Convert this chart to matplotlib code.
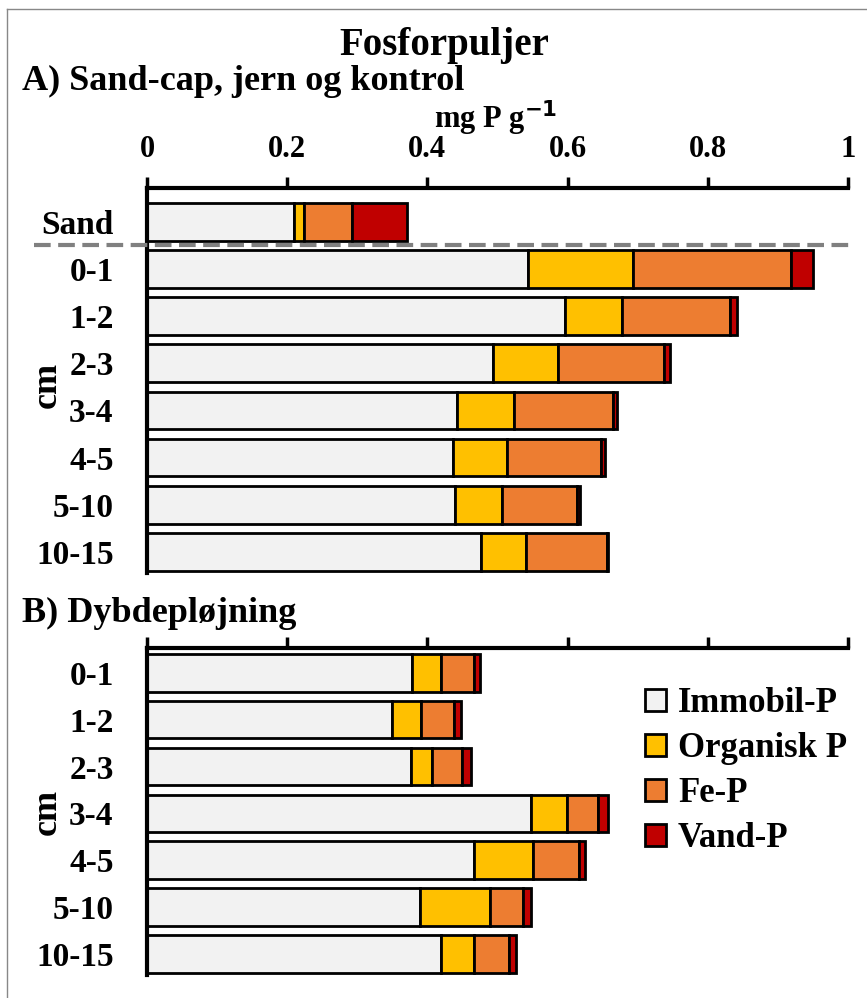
import numpy as np
import matplotlib
matplotlib.use("Agg")
import matplotlib.pyplot as plt
from matplotlib.lines import Line2D

plt.rcParams['font.family'] = ['Liberation Serif', 'DejaVu Serif']
plt.rcParams['font.weight'] = 'bold'

# data (mg P g-1)
labels_a = ['Sand', '0-1', '1-2', '2-3', '3-4', '4-5', '5-10', '10-15']
immobil_a = [0.209, 0.543, 0.597, 0.493, 0.442, 0.437, 0.439, 0.476]
organisk_a = [0.015, 0.150, 0.081, 0.093, 0.082, 0.077, 0.068, 0.065]
fe_a = [0.069, 0.225, 0.153, 0.151, 0.141, 0.134, 0.107, 0.115]
vand_a = [0.078, 0.032, 0.011, 0.009, 0.006, 0.006, 0.004, 0.002]

labels_b = ['0-1', '1-2', '2-3', '3-4', '4-5', '5-10', '10-15']
immobil_b = [0.378, 0.349, 0.376, 0.548, 0.466, 0.390, 0.420]
organisk_b = [0.042, 0.042, 0.031, 0.051, 0.084, 0.100, 0.047]
fe_b = [0.047, 0.047, 0.043, 0.045, 0.066, 0.047, 0.049]
vand_b = [0.008, 0.010, 0.012, 0.014, 0.009, 0.011, 0.010]

series_names = ['Immobil-P', 'Organisk P', 'Fe-P', 'Vand-P']
colors = ['#F2F2F2', '#FFC000', '#ED7D31', '#C00000']

W, H = 867, 998
fig = plt.figure(figsize=(W / 100, H / 100), dpi=100)

ax_a = fig.add_axes([147 / W, 1 - 573 / H, 701 / W, 385 / H])
ax_b = fig.add_axes([147 / W, 1 - 975 / H, 701 / W, 327 / H])


def stacked(ax, labels, parts):
    y = np.arange(len(labels))
    left = np.zeros(len(labels))
    for vals, col, name in zip(parts, colors, series_names):
        ax.barh(y, vals, left=left, height=0.8, color=col, edgecolor='black',
                linewidth=2, label=name)
        left += np.array(vals)
    ax.set_yticks(y)
    ax.set_yticklabels(labels, fontsize=24, fontweight='bold')
    ax.set_xlim(0, 1)
    ax.set_xticks([0, 0.2, 0.4, 0.6, 0.8, 1])
    ax.xaxis.tick_top()
    ax.tick_params(axis='x', direction='out', length=8, width=2.5, pad=9,
                   labelsize=22)
    ax.tick_params(axis='y', length=0, pad=24)
    for s in ['right', 'bottom']:
        ax.spines[s].set_visible(False)
    for s in ['top', 'left']:
        ax.spines[s].set_linewidth(3)


stacked(ax_a, labels_a, [immobil_a, organisk_a, fe_a, vand_a])
ax_a.set_ylim(7.45, -0.72)
ax_a.set_xticklabels(['0', '0.2', '0.4', '0.6', '0.8', '1'], fontweight='bold')
ax_a.axhline(0.5, xmin=-0.161, xmax=1.007, color='#808080', lw=3,
             linestyle=(0, (4, 1.8)), clip_on=False, zorder=5)

stacked(ax_b, labels_b, [immobil_b, organisk_b, fe_b, vand_b])
ax_b.set_ylim(6.45, -0.53)
ax_b.set_xticklabels([])

# texts
fig.text(444 / W, 1 - 46 / H, 'Fosforpuljer', ha='center', va='center',
         fontsize=28, fontweight='bold')
fig.text(22 / W, 1 - 81 / H, 'A) Sand-cap, jern og kontrol', ha='left',
         va='center', fontsize=26, fontweight='bold')
fig.text(496 / W, 1 - 118 / H, 'mg P g$^{\\mathbf{-1}}$', ha='center',
         va='center', fontsize=22, fontweight='bold')
fig.text(22 / W, 1 - 613 / H, 'B) Dybdepløjning', ha='left', va='center',
         fontsize=26, fontweight='bold')
fig.text(47 / W, 1 - 385 / H, 'cm', rotation=90, ha='center', va='center',
         fontsize=26, fontweight='bold')
fig.text(47 / W, 1 - 812 / H, 'cm', rotation=90, ha='center', va='center',
         fontsize=26, fontweight='bold')

# legend
handles, lbls = ax_b.get_legend_handles_labels()
fig.legend(handles, lbls, loc='upper left',
           bbox_to_anchor=(645 / W, 1 - 687 / H), frameon=False,
           prop={'size': 25, 'weight': 'bold'}, handlelength=0.6,
           handleheight=0.6, handletextpad=0.35, labelspacing=0.35,
           borderpad=0, borderaxespad=0)

# figure frame (left and top)
fig.add_artist(Line2D([7 / W, 7 / W], [0, 1 - 9 / H], color='#888888',
                      lw=1, transform=fig.transFigure))
fig.add_artist(Line2D([7 / W, 1], [1 - 9 / H, 1 - 9 / H], color='#888888',
                      lw=1, transform=fig.transFigure))

fig.savefig('out.png', dpi=100)
